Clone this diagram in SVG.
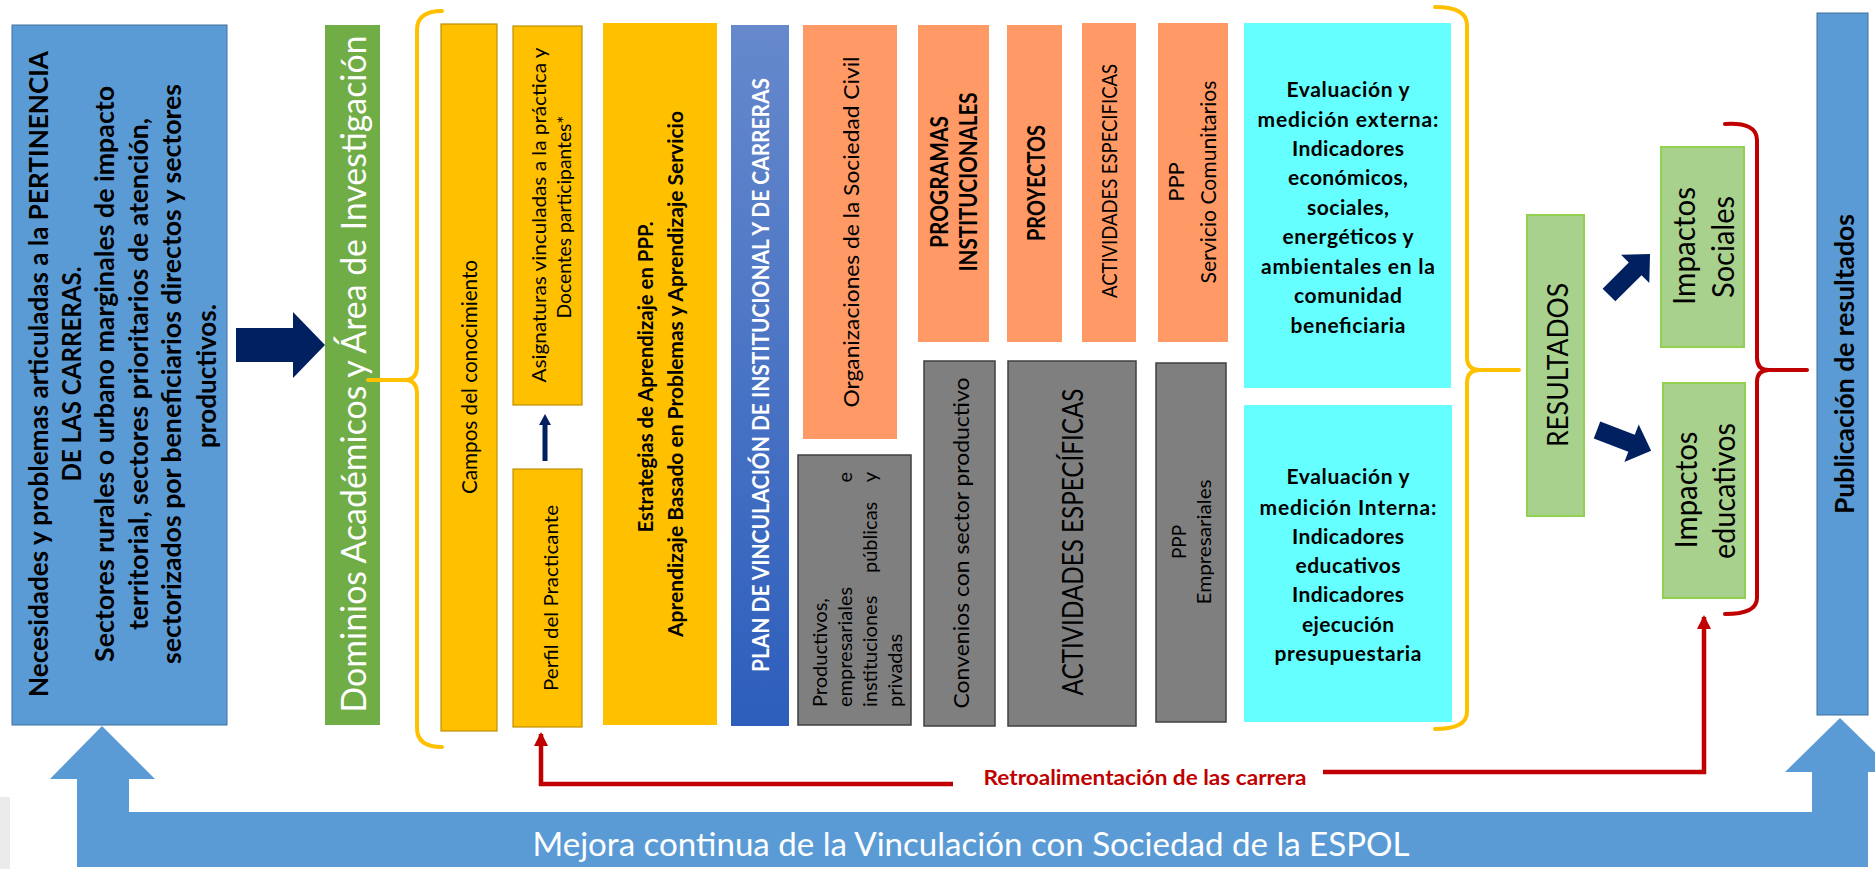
<svg xmlns="http://www.w3.org/2000/svg" width="1875" height="869" viewBox="0 0 1875 869">
<defs>
<linearGradient id="planGrad" x1="0" y1="0" x2="0" y2="1"><stop offset="0" stop-color="#6689CC"/><stop offset="1" stop-color="#2D5EBC"/></linearGradient>
<marker id="redHead" viewBox="0 0 14 14" refX="12" refY="7" markerWidth="14" markerHeight="14" markerUnits="userSpaceOnUse" orient="auto"><path d="M0,0 L14,7 L0,14 Z" fill="#C00000"/></marker>
</defs>
<style>
text{font-family:Lato,"Liberation Sans",sans-serif;dominant-baseline:central;fill:#000}
.m{text-anchor:middle}
.b{font-weight:bold}
.w{fill:#fff}
.blue{fill:#5B9BD5;stroke:#41719C;stroke-width:1}
.yel{fill:#FFC000;stroke:#BF9000;stroke-width:1.2}
.ora{fill:#FF9966}
.gry{fill:#7F7F7F;stroke:#404040;stroke-width:1.5}
.cy{fill:#66FFFF}
.lg{fill:#A9D18E;stroke:#92D050;stroke-width:2}
.navy{fill:#002060}
.brY{fill:none;stroke:#FFC000;stroke-width:4;stroke-linecap:round;stroke-linejoin:round}
.brR{fill:none;stroke:#C00000;stroke-width:4;stroke-linecap:round;stroke-linejoin:round}
.red{fill:none;stroke:#C00000;stroke-width:4.5}
</style>
<rect x="0" y="797" width="10" height="72" fill="#EBEBEB"/>

<g id="mejora">
<path class="blue" stroke="none" d="M102,726 L155,779 L129,779 L129,812 L1812,812 L1812,772 L1785,772 L1840,718 L1895,772 L1868,772 L1868,867 L77,867 L77,779 L50,779 Z" style="stroke:none"/>
<text class="m w" x="971" y="843" font-size="32" textLength="877" lengthAdjust="spacingAndGlyphs">Mejora continua de la Vinculación con Sociedad de la ESPOL</text>
</g>

<g id="necesidades">
<rect class="blue" x="12" y="25" width="215" height="700"/>
<g class="b" font-size="27">
<text class="m b" x="-374" y="37" transform="rotate(-90)" textLength="646" lengthAdjust="spacingAndGlyphs">Necesidades y problemas articuladas a la PERTINENCIA</text>
<text class="m b" x="-374" y="70" transform="rotate(-90)" textLength="215" lengthAdjust="spacingAndGlyphs">DE LAS CARRERAS.</text>
<text class="m b" x="-374" y="103" transform="rotate(-90)" textLength="576" lengthAdjust="spacingAndGlyphs">Sectores rurales o urbano marginales de impacto</text>
<text class="m b" x="-374" y="137" transform="rotate(-90)" textLength="512" lengthAdjust="spacingAndGlyphs">territorial, sectores prioritarios de atención,</text>
<text class="m b" x="-374" y="170" transform="rotate(-90)" textLength="580" lengthAdjust="spacingAndGlyphs">sectorizados por beneficiarios directos y sectores</text>
<text class="m b" x="-376" y="205" transform="rotate(-90)" textLength="144" lengthAdjust="spacingAndGlyphs">productivos.</text>
</g>
</g>

<g id="dominios">
<rect x="325" y="25" width="55" height="700" fill="#70AD47"/>
<text class="m w" x="-374" y="352" font-size="34" transform="rotate(-90)" textLength="677" lengthAdjust="spacingAndGlyphs">Dominios Académicos y Área de Investigación</text>
</g>

<g id="campos">
<rect class="yel" x="441" y="24" width="56" height="707"/>
<text class="m" x="-377" y="468" font-size="21" transform="rotate(-90)" textLength="234" lengthAdjust="spacingAndGlyphs">Campos del conocimiento</text>
</g>

<g id="asignaturas">
<rect class="yel" x="513" y="26" width="69" height="379"/>
<text class="m" x="-215" y="538" font-size="20" transform="rotate(-90)" textLength="335" lengthAdjust="spacingAndGlyphs">Asignaturas vinculadas a la práctica y</text>
<text class="m" x="-217" y="563" font-size="20" transform="rotate(-90)" textLength="203" lengthAdjust="spacingAndGlyphs">Docentes participantes*</text>
</g>

<g id="perfil">
<rect class="yel" x="513" y="469" width="69" height="258"/>
<text class="m" x="-598" y="550" font-size="20" transform="rotate(-90)" textLength="186" lengthAdjust="spacingAndGlyphs">Perfil del Practicante</text>
</g>

<g id="estrategias">
<rect x="603" y="23" width="114" height="702" fill="#FFC000"/>
<text class="m b" x="-377" y="645" font-size="20" transform="rotate(-90)" textLength="311" lengthAdjust="spacingAndGlyphs">Estrategias de Aprendizaje en PPP.</text>
<text class="m b" x="-374" y="675" font-size="20" transform="rotate(-90)" textLength="526" lengthAdjust="spacingAndGlyphs">Aprendizaje Basado en Problemas y Aprendizaje Servicio</text>
</g>

<g id="plan">
<rect x="731" y="25" width="58" height="701" fill="url(#planGrad)"/>
<text class="m b w" x="-375" y="760" font-size="22" transform="rotate(-90)" textLength="594" lengthAdjust="spacingAndGlyphs">PLAN DE VINCULACIÓN DE INSTITUCIONAL Y DE CARRERAS</text>
</g>

<g id="organizaciones">
<rect class="ora" x="803" y="25" width="94" height="414"/>
<text class="m" x="-232" y="850" font-size="22" transform="rotate(-90)" textLength="351" lengthAdjust="spacingAndGlyphs">Organizaciones de la Sociedad Civil</text>
</g>

<g id="productivos">
<rect class="gry" x="798" y="455" width="113" height="270"/>
<g font-size="20">
<text x="-707" y="819" transform="rotate(-90)">Productivos,</text>
<text x="-707" y="844" transform="rotate(-90)">empresariales</text>
<text x="-472" y="844" transform="rotate(-90)" text-anchor="end">e</text>
<text x="-707" y="869" transform="rotate(-90)">instituciones</text>
<text x="-573" y="869" transform="rotate(-90)">públicas</text>
<text x="-472" y="869" transform="rotate(-90)" text-anchor="end">y</text>
<text x="-707" y="894" transform="rotate(-90)">privadas</text>
</g>
</g>

<g id="programas">
<rect class="ora" x="918" y="25" width="71" height="317"/>
<text class="m b" x="-182" y="938" font-size="24" transform="rotate(-90)" textLength="132" lengthAdjust="spacingAndGlyphs">PROGRAMAS</text>
<text class="m b" x="-182" y="967" font-size="24" transform="rotate(-90)" textLength="179" lengthAdjust="spacingAndGlyphs">INSTITUCIONALES</text>
</g>

<g id="convenios">
<rect class="gry" x="924" y="361" width="71" height="365"/>
<text class="m" x="-543" y="960" font-size="22" transform="rotate(-90)" textLength="331" lengthAdjust="spacingAndGlyphs">Convenios con sector productivo</text>
</g>

<g id="proyectos">
<rect class="ora" x="1007" y="25" width="55" height="317"/>
<text class="m b" x="-183" y="1035" font-size="24" transform="rotate(-90)" textLength="116" lengthAdjust="spacingAndGlyphs">PROYECTOS</text>
</g>

<g id="actividades-orange">
<rect class="ora" x="1082" y="23" width="54" height="319"/>
<text class="m" x="-181" y="1108" font-size="21" transform="rotate(-90)" textLength="234" lengthAdjust="spacingAndGlyphs">ACTIVIDADES ESPECIFICAS</text>
</g>

<g id="actividades-gray">
<rect class="gry" x="1008" y="361" width="128" height="365"/>
<text class="m" x="-542" y="1072" font-size="28" transform="rotate(-90)" textLength="307" lengthAdjust="spacingAndGlyphs">ACTIVIDADES ESPECÍFICAS</text>
</g>

<g id="ppp-servicio">
<rect class="ora" x="1158" y="23" width="70" height="319"/>
<text class="m" x="-182" y="1175" font-size="22" transform="rotate(-90)">PPP</text>
<text class="m" x="-182" y="1207" font-size="22" transform="rotate(-90)" textLength="203" lengthAdjust="spacingAndGlyphs">Servicio Comunitarios</text>
</g>

<g id="ppp-empresariales">
<rect class="gry" x="1156" y="363" width="70" height="359"/>
<text class="m" x="-542" y="1178" font-size="19" transform="rotate(-90)">PPP</text>
<text class="m" x="-542" y="1203" font-size="20" transform="rotate(-90)" textLength="125" lengthAdjust="spacingAndGlyphs">Empresariales</text>
</g>

<g id="eval-externa">
<rect class="cy" x="1244" y="23" width="207" height="365"/>
<g class="b" font-size="21">
<text class="m b" x="1348" y="88" textLength="123">Evaluación  y</text>
<text class="m b" x="1348" y="118" textLength="181">medición  externa:</text>
<text class="m b" x="1348" y="147" textLength="112">Indicadores</text>
<text class="m b" x="1348" y="176" textLength="120">económicos,</text>
<text class="m b" x="1348" y="206" textLength="82">sociales,</text>
<text class="m b" x="1348" y="235" textLength="131">energéticos y</text>
<text class="m b" x="1348" y="265" textLength="174">ambientales en la</text>
<text class="m b" x="1348" y="294" textLength="108">comunidad</text>
<text class="m b" x="1348" y="324" textLength="115">beneficiaria</text>
</g>
</g>

<g id="eval-interna">
<rect class="cy" x="1244" y="405" width="208" height="317"/>
<g class="b" font-size="21">
<text class="m b" x="1348" y="475" textLength="123">Evaluación  y</text>
<text class="m b" x="1348" y="506" textLength="177">medición  Interna:</text>
<text class="m b" x="1348" y="535" textLength="112">Indicadores</text>
<text class="m b" x="1348" y="564" textLength="105">educativos</text>
<text class="m b" x="1348" y="593" textLength="112">Indicadores</text>
<text class="m b" x="1348" y="623" textLength="92">ejecución</text>
<text class="m b" x="1348" y="652" textLength="147">presupuestaria</text>
</g>
</g>

<g id="resultados">
<rect class="lg" x="1527" y="215" width="57" height="301"/>
<text class="m" x="-365" y="1556" font-size="29" transform="rotate(-90)" textLength="164" lengthAdjust="spacingAndGlyphs">RESULTADOS</text>
</g>

<g id="impactos-sociales">
<rect class="lg" x="1661" y="147" width="83" height="200"/>
<text class="m" x="-246" y="1683" font-size="31" transform="rotate(-90)" textLength="118" lengthAdjust="spacingAndGlyphs">Impactos</text>
<text class="m" x="-247" y="1722" font-size="31" transform="rotate(-90)" textLength="102" lengthAdjust="spacingAndGlyphs">Sociales</text>
</g>

<g id="impactos-educativos">
<rect class="lg" x="1663" y="383" width="82" height="215"/>
<text class="m" x="-490" y="1685" font-size="31" transform="rotate(-90)" textLength="117" lengthAdjust="spacingAndGlyphs">Impactos</text>
<text class="m" x="-491" y="1723" font-size="31" transform="rotate(-90)" textLength="136" lengthAdjust="spacingAndGlyphs">educativos</text>
</g>

<g id="publicacion">
<rect class="blue" x="1817" y="13" width="51" height="702"/>
<text class="m b" x="-364" y="1843" font-size="27" transform="rotate(-90)" textLength="300" lengthAdjust="spacingAndGlyphs">Publicación de resultados</text>
</g>

<g id="connectors">
<polygon class="navy" points="236,328 293,328 293,312 325,345 293,378 293,362 236,362"/>
<polygon class="navy" points="542.5,461 547.5,461 547.5,425 551,425 545,414 539,425 542.5,425"/>
<polygon class="navy" points="0,-9 37,-9 37,-20 58,0 37,20 37,9 0,9" transform="translate(1609,295) rotate(-45)"/>
<polygon class="navy" points="0,-9 37,-9 37,-20 58,0 37,20 37,9 0,9" transform="translate(1597,430) rotate(21)"/>
<path class="brY" d="M442,11 Q417,11 417,30 L417,366 Q417,380 405,380 L368,380 M405,380 Q417,380 417,394 L417,728 Q417,747 442,747"/>
<path class="brY" d="M1435,7 Q1467,7 1467,25 L1467,357 Q1467,370 1480,370 L1519,370 M1480,370 Q1467,370 1467,383 L1467,712 Q1467,729 1435,729"/>
<path class="brR" d="M1725,124 Q1757,122 1757,140 L1757,358 Q1757,370 1769,370 L1807,370 M1769,370 Q1757,370 1757,382 L1757,598 Q1757,614 1725,614"/>
<path class="red" d="M953,784 L541,784 L541,734" marker-end="url(#redHead)"/>
<path class="red" d="M1323,772 L1704,772 L1704,617" marker-end="url(#redHead)"/>
<text class="m b" x="1145" y="776" font-size="21" style="fill:#C00000" textLength="323" lengthAdjust="spacingAndGlyphs">Retroalimentación de las carrera</text>
</g>
</svg>
